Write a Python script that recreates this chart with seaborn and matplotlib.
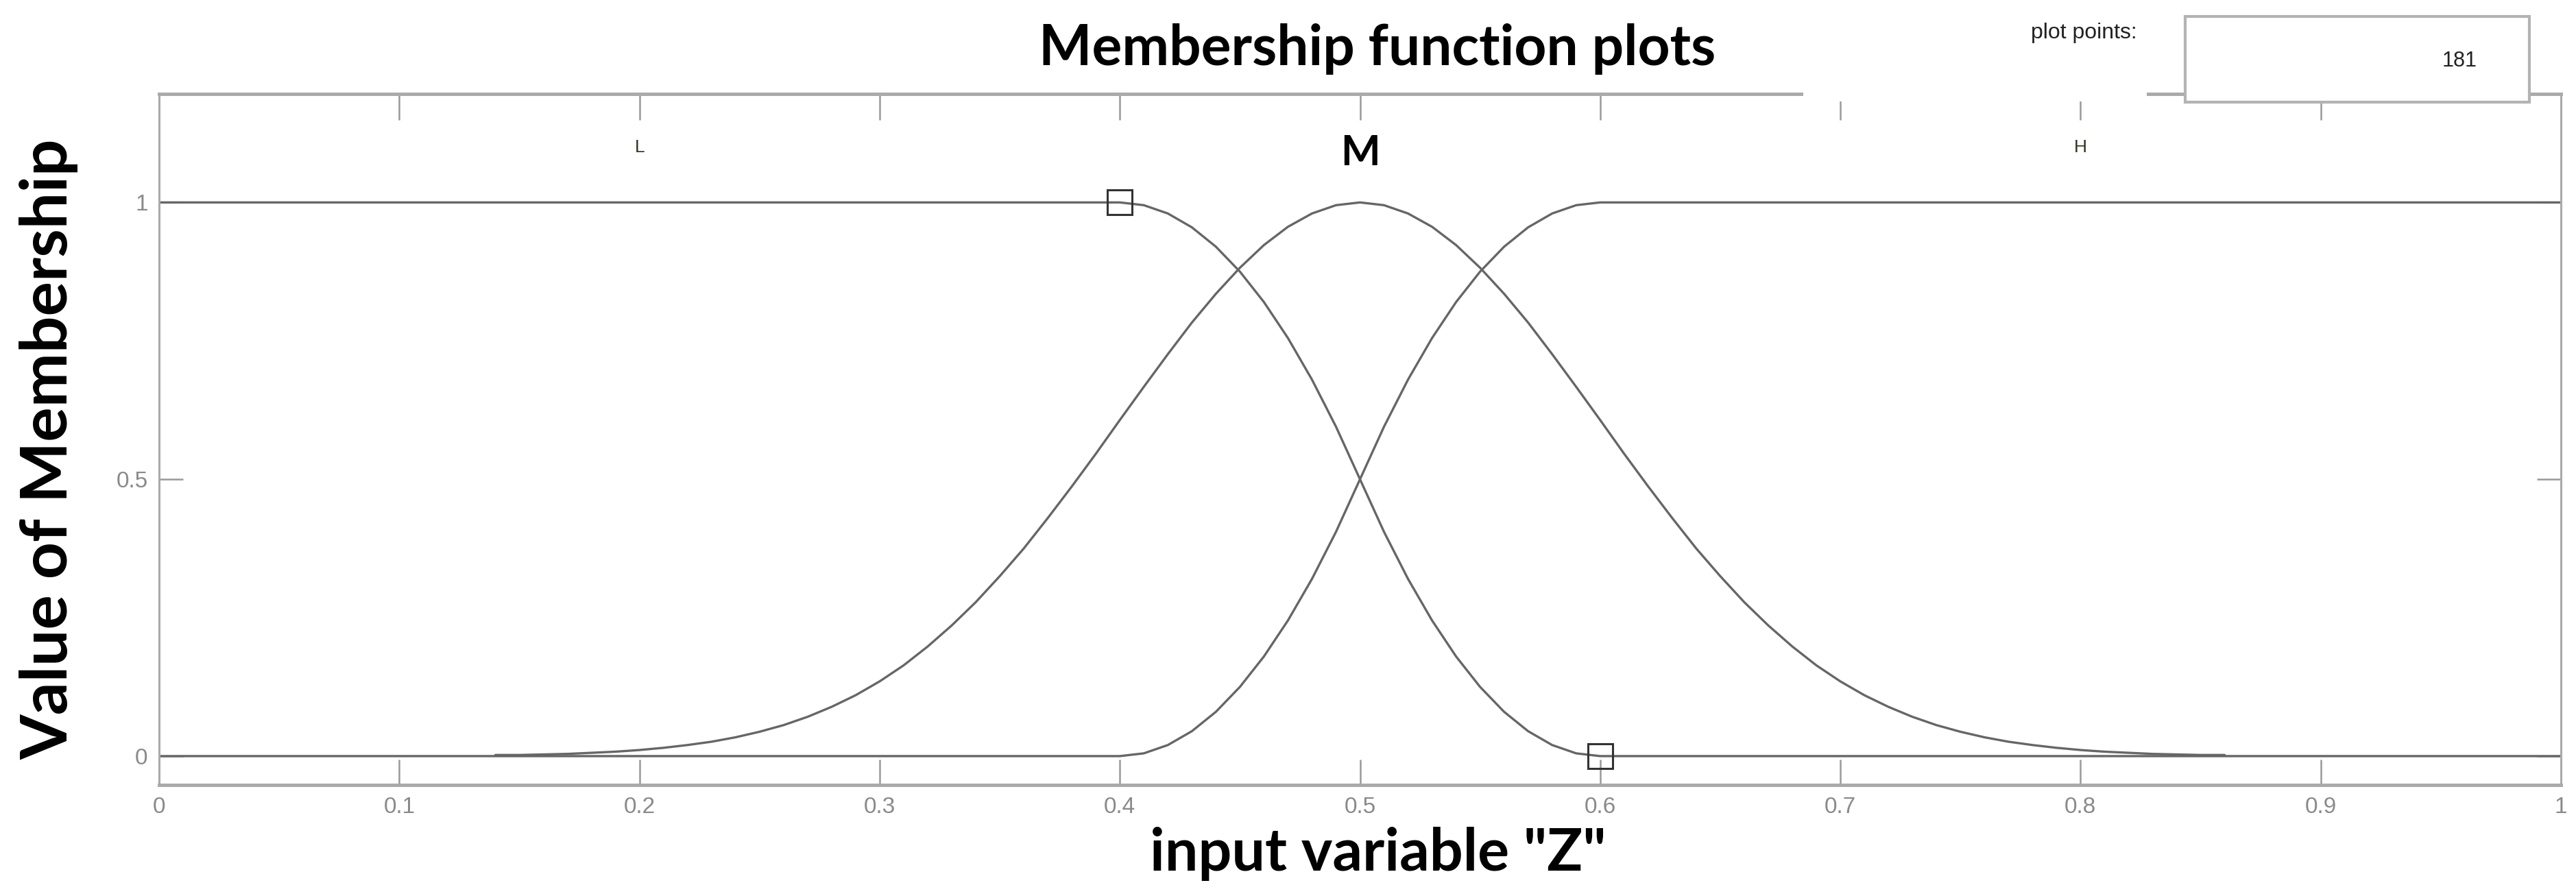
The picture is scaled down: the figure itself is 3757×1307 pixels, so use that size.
import numpy as np
import pandas as pd
import matplotlib
matplotlib.use("Agg")
import matplotlib.pyplot as plt
import seaborn as sns
from matplotlib.patches import Rectangle

# membership function values
x_L = [0.0, 0.40, 0.41, 0.42, 0.43, 0.44, 0.45, 0.46, 0.47, 0.48, 0.49, 0.50,
       0.51, 0.52, 0.53, 0.54, 0.55, 0.56, 0.57, 0.58, 0.59, 0.60, 1.0]
y_L = [1.0, 1.000, 0.995, 0.980, 0.955, 0.920, 0.875, 0.820, 0.755, 0.680, 0.595, 0.500,
       0.405, 0.320, 0.245, 0.180, 0.125, 0.080, 0.045, 0.020, 0.005, 0.000, 0.0]

x_M = [0.14, 0.15, 0.16, 0.17, 0.18, 0.19, 0.20, 0.21, 0.22, 0.23, 0.24, 0.25,
       0.26, 0.27, 0.28, 0.29, 0.30, 0.31, 0.32, 0.33, 0.34, 0.35, 0.36, 0.37,
       0.38, 0.39, 0.40, 0.41, 0.42, 0.43, 0.44, 0.45, 0.46, 0.47, 0.48, 0.49,
       0.50, 0.51, 0.52, 0.53, 0.54, 0.55, 0.56, 0.57, 0.58, 0.59, 0.60, 0.61,
       0.62, 0.63, 0.64, 0.65, 0.66, 0.67, 0.68, 0.69, 0.70, 0.71, 0.72, 0.73,
       0.74, 0.75, 0.76, 0.77, 0.78, 0.79, 0.80, 0.81, 0.82, 0.83, 0.84, 0.85, 0.86]
y_M = [0.002, 0.002, 0.003, 0.004, 0.006, 0.008, 0.011, 0.015, 0.020, 0.026, 0.034, 0.044,
       0.056, 0.071, 0.089, 0.110, 0.135, 0.164, 0.198, 0.236, 0.278, 0.325, 0.375, 0.430,
       0.487, 0.546, 0.607, 0.667, 0.726, 0.783, 0.835, 0.882, 0.923, 0.956, 0.980, 0.995,
       1.000, 0.995, 0.980, 0.956, 0.923, 0.882, 0.835, 0.783, 0.726, 0.667, 0.607, 0.546,
       0.487, 0.430, 0.375, 0.325, 0.278, 0.236, 0.198, 0.164, 0.135, 0.110, 0.089, 0.071,
       0.056, 0.044, 0.034, 0.026, 0.020, 0.015, 0.011, 0.008, 0.006, 0.004, 0.003, 0.002, 0.002]

x_H = [0.0, 0.40, 0.41, 0.42, 0.43, 0.44, 0.45, 0.46, 0.47, 0.48, 0.49, 0.50,
       0.51, 0.52, 0.53, 0.54, 0.55, 0.56, 0.57, 0.58, 0.59, 0.60, 1.0]
y_H = [0.0, 0.000, 0.005, 0.020, 0.045, 0.080, 0.125, 0.180, 0.245, 0.320, 0.405, 0.500,
       0.595, 0.680, 0.755, 0.820, 0.875, 0.920, 0.955, 0.980, 0.995, 1.000, 1.0]

mf_names = ["L", "M", "H"]
mf_label_x = [0.2, 0.5, 0.8]
mf_label_y = [1.10, 1.09, 1.10]

# selected MF control points (square handles)
handle_x = [0.4, 0.6]
handle_y = [1.0, 0.0]

x_ticks = [0, 0.1, 0.2, 0.3, 0.4, 0.5, 0.6, 0.7, 0.8, 0.9, 1]
x_tick_labels = ["0", "0.1", "0.2", "0.3", "0.4", "0.5", "0.6", "0.7", "0.8", "0.9", "1"]
y_ticks = [0, 0.5, 1]
y_tick_labels = ["0", "0.5", "1"]

plot_points = "181"

sns.set_style("white")
plt.rcParams["font.family"] = ["Lato", "DejaVu Sans"]

df = pd.concat([
    pd.DataFrame({"x": x_L, "y": y_L, "mf": "L"}),
    pd.DataFrame({"x": x_M, "y": y_M, "mf": "M"}),
    pd.DataFrame({"x": x_H, "y": y_H, "mf": "H"}),
])

fig = plt.figure(figsize=(37.57, 13.07), dpi=100)
ax = fig.add_axes([0.0618, 0.124, 0.9323, 0.7712])

line_col = "#666666"
sns.lineplot(data=df, x="x", y="y", hue="mf", palette=[line_col] * 3,
             sort=False, estimator=None, linewidth=2.4, legend=False, ax=ax)
ax.plot(handle_x, handle_y, linestyle="none", marker="s", markersize=26,
        markerfacecolor="none", markeredgecolor="#333333", markeredgewidth=2.2, zorder=5)

ax.set_xlim(0, 1)
ax.set_ylim(-0.052, 1.196)
ax.set_xlabel("")
ax.set_ylabel("")

ax.set_xticks(x_ticks)
ax.set_xticklabels(x_tick_labels)
ax.set_yticks(y_ticks)
ax.set_yticklabels(y_tick_labels)
tick_font = ["Liberation Sans Narrow", "Liberation Sans"]
for lab in ax.get_xticklabels() + ax.get_yticklabels():
    lab.set_family(tick_font)
ax.tick_params(axis="x", direction="in", length=27, width=1.8, color="#999999",
               top=True, bottom=True, labelsize=24, labelcolor="#8a8a8a", pad=12)
ax.tick_params(axis="y", direction="in", length=25, width=1.8, color="#999999",
               left=True, right=True, labelsize=24, labelcolor="#8a8a8a", pad=12)

for side in ["top", "bottom"]:
    ax.spines[side].set_color("#aaaaaa")
    ax.spines[side].set_linewidth(3.6)
for side in ["left", "right"]:
    ax.spines[side].set_color("#aaaaaa")
    ax.spines[side].set_linewidth(2.2)

# MF names
for name, lx, ly in zip(mf_names, mf_label_x, mf_label_y):
    if name == "M":
        ax.text(lx, ly, name, ha="center", va="center", fontsize=44,
                fontweight="bold", color="black")
    else:
        ax.text(lx, ly, name, ha="center", va="center", fontsize=19,
                color="#333322", family=tick_font)

# titles
fig.text(0.5347, 0.945, "Membership function plots", ha="center", va="center",
         fontsize=59, fontweight="bold", color="black")
fig.text(0.535, 0.047, 'input variable "Z"', ha="center", va="center",
         fontsize=62, fontweight="bold", color="black")
fig.text(0.019, 0.499, "Value of Membership", ha="center", va="center",
         rotation=90, fontsize=68, fontweight="bold", color="black")

# "plot points" area covering part of the top frame
fig.patches.append(Rectangle((0.700, 0.8868), 0.1333, 0.12, transform=fig.transFigure,
                             facecolor="white", edgecolor="none", zorder=3))
fig.patches.append(Rectangle((0.8483, 0.886), 0.1336, 0.0956, transform=fig.transFigure,
                             facecolor="white", edgecolor="#b3b3b3", linewidth=3, zorder=4))
fig.text(0.809, 0.963, "plot points:", ha="center", va="center", fontsize=23,
         color="#222222", family=tick_font, zorder=6)
fig.text(0.9617, 0.932, plot_points, ha="right", va="center", fontsize=22,
         color="#222222", family=tick_font, zorder=6)

fig.savefig("out.png", dpi=100)
